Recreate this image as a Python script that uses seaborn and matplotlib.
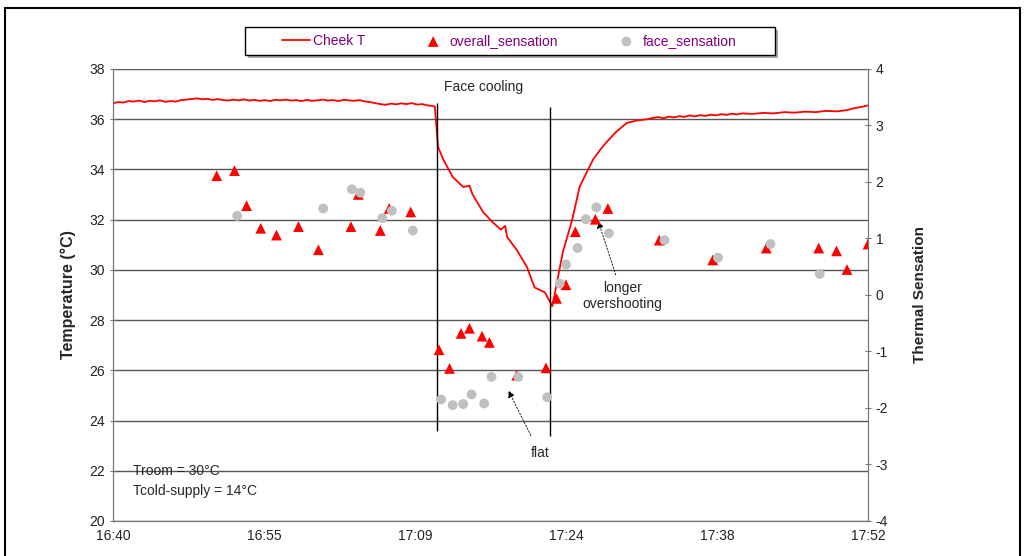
import matplotlib
matplotlib.use("Agg")
import matplotlib.pyplot as plt
import seaborn as sns
import pandas as pd
from matplotlib.patches import Rectangle

# minutes after 16:40
cheek_min = [0, 0.5, 1, 1.5, 2, 2.5, 3, 3.5, 4, 4.5, 5, 5.5, 6, 6.5, 7, 7.5, 8, 8.5, 9, 9.5,
             10, 10.5, 11, 11.5, 12, 12.5, 13, 13.5, 14, 14.5, 15, 15.5, 16, 16.5, 17, 17.5,
             18, 18.5, 19, 19.5, 20, 20.5, 21, 21.5, 22, 22.5, 23, 23.5, 24, 24.5, 25, 25.5,
             26, 26.5, 27, 27.5, 28, 28.5, 29, 29.5, 30, 30.5, 30.7,
             31.0, 31.5, 32.4, 33.4, 34.0, 34.3, 35.3, 36.2, 37.0, 37.4, 37.6, 38.5,
             39.5, 40.2, 40.7, 41.2, 41.9,
             42.3, 42.9, 43.8, 44.5, 45.2, 45.8, 46.5, 47.1, 48.0, 49.0, 50.0, 51.0,
             51.5, 52, 52.5, 53, 53.5, 54, 54.5, 55, 55.5, 56, 56.5, 57, 57.5, 58, 58.5,
             59, 59.5, 60, 61, 62, 63, 64, 65, 66, 67, 68, 69, 70, 70.5, 71, 71.5, 72]
cheek_T = [36.63, 36.68, 36.66, 36.72, 36.7, 36.74, 36.68, 36.73, 36.71, 36.75, 36.69, 36.72,
           36.7, 36.76, 36.78, 36.8, 36.83, 36.79, 36.81, 36.77, 36.8, 36.76, 36.74, 36.78,
           36.75, 36.79, 36.74, 36.77, 36.73, 36.76, 36.72, 36.77, 36.75, 36.78, 36.74, 36.76,
           36.72, 36.77, 36.73, 36.75, 36.78, 36.74, 36.76, 36.72, 36.77, 36.75, 36.73, 36.76,
           36.71, 36.68, 36.64, 36.6, 36.57, 36.62, 36.59, 36.63, 36.6, 36.64, 36.58, 36.6,
           36.55, 36.52, 36.5,
           34.9, 34.4, 33.7, 33.3, 33.35, 33.0, 32.3, 31.9, 31.6, 31.75, 31.3, 30.8,
           30.1, 29.3, 29.2, 29.1, 28.55,
           29.4, 30.7, 32.0, 33.3, 33.9, 34.4, 34.8, 35.1, 35.5, 35.85, 35.95, 36.0,
           36.05, 36.08, 36.04, 36.1, 36.07, 36.12, 36.09, 36.15, 36.11, 36.16, 36.13, 36.18,
           36.15, 36.2, 36.17, 36.22, 36.19, 36.23, 36.21, 36.25, 36.23, 36.28, 36.26, 36.3,
           36.28, 36.33, 36.31, 36.36, 36.42, 36.46, 36.5, 36.55]

overall_min = [9.9, 11.6, 12.75, 14.1, 15.6, 17.7, 19.6, 22.7, 23.4, 25.5, 26.35, 28.4,
               31.1, 32.1, 33.2, 34.0, 35.2, 35.9, 38.5, 41.3,
               42.3, 43.2, 44.1, 46.0, 47.2, 52.1, 57.2, 62.3, 67.3, 69.0, 70.0, 72.0]
overall_sens = [2.11, 2.2, 1.58, 1.18, 1.06, 1.21, 0.8, 1.21, 1.78, 1.14, 1.53, 1.47,
                -0.97, -1.3, -0.68, -0.59, -0.73, -0.84, -1.42, -1.29,
                -0.06, 0.18, 1.12, 1.34, 1.53, 0.97, 0.62, 0.83, 0.83, 0.78, 0.45, 0.9]

face_min = [11.85, 20.06, 22.8, 23.6, 25.7, 26.6, 28.6,
            31.3, 32.4, 33.4, 34.2, 35.4, 36.1, 38.65, 41.4,
            42.6, 43.2, 44.3, 45.1, 46.1, 47.3, 52.6, 57.7, 62.7, 67.4]
face_sens = [1.4, 1.53, 1.87, 1.81, 1.36, 1.49, 1.14,
             -1.85, -1.95, -1.93, -1.76, -1.92, -1.45, -1.45, -1.81,
             0.2, 0.54, 0.83, 1.34, 1.55, 1.09, 0.97, 0.66, 0.9, 0.37]

x_ticks = [0, 14.4, 28.8, 43.2, 57.6, 72]
x_labels = ["16:40", "16:55", "17:09", "17:24", "17:38", "17:52"]

df_T = pd.DataFrame({"t": cheek_min, "T": cheek_T})
df_o = pd.DataFrame({"t": overall_min, "s": overall_sens})
df_f = pd.DataFrame({"t": face_min, "s": face_sens})

sns.set_style("white")
plt.rcParams["font.family"] = ["Liberation Sans", "DejaVu Sans"]
plt.rcParams["axes.unicode_minus"] = False

fig = plt.figure(figsize=(10.26, 5.56), dpi=100)
ax = fig.add_axes([0.110, 0.063, 0.736, 0.813])
ax2 = ax.twinx()

sns.lineplot(data=df_T, x="t", y="T", ax=ax, color="red", lw=1.3, label="Cheek T", legend=False)
sns.scatterplot(data=df_o, x="t", y="s", ax=ax2, marker="^", color="red", s=60,
                edgecolor="none", label="overall_sensation", legend=False, zorder=3)
sns.scatterplot(data=df_f, x="t", y="s", ax=ax2, marker="o", color="#c0c0c0", s=50,
                edgecolor="none", label="face_sensation", legend=False, zorder=4)

ax.set_xlim(0, 72)
ax.set_ylim(20, 38)
ax2.set_ylim(-4, 4)
ax.set_yticks(range(20, 39, 2))
ax2.set_yticks(range(-4, 5))
ax.set_xticks(x_ticks)
ax.set_xticklabels(x_labels)
ax.grid(axis="y", color="#555555", lw=1)
ax.set_axisbelow(True)

for a in (ax, ax2):
    for sp in a.spines.values():
        sp.set_color("#777777")
    a.spines["top"].set_visible(False)
ax.tick_params(axis="both", direction="inout", length=5, color="#777777", labelsize=10, pad=3,
               labelcolor="#222222")
ax2.tick_params(axis="y", direction="inout", length=5, color="#777777", labelsize=10, pad=3,
                labelcolor="#222222")

ax.set_xlabel("")
ax.set_ylabel("Temperature (°C)", fontsize=11.5, fontweight="bold", labelpad=10)
ax2.set_ylabel("Thermal Sensation", fontsize=11, fontweight="bold", labelpad=18)

# face cooling period
ax.vlines(30.9, 23.6, 36.65, color="black", lw=1)
ax.vlines(41.7, 23.4, 36.5, color="black", lw=1)
ax.text(35.3, 37.3, "Face cooling", ha="center", va="center", fontsize=10)

ax.annotate("longer\novershooting", xy=(46.2, 1.35), xycoords=ax2.transData,
            xytext=(48.6, 0.25), textcoords=ax2.transData, ha="center", va="top", fontsize=10,
            arrowprops=dict(arrowstyle="-|>", color="black", lw=0.6, ls=(0, (2, 2))))
ax.annotate("flat", xy=(37.6, -1.65), xycoords=ax2.transData,
            xytext=(40.7, -2.8), textcoords=ax2.transData, ha="center", va="center", fontsize=10,
            arrowprops=dict(arrowstyle="-|>", color="black", lw=0.6, ls=(0, (2, 2)),
                            shrinkA=6))

ax.text(1.9, 21.6, "Troom = 30°C\nTcold-supply = 14°C", ha="left", va="center",
        fontsize=10, linespacing=1.5)

# legend box with shadow drawn by hand, legend itself frameless
fig.patches.append(Rectangle((0.2388 + 0.003, 0.9011 - 0.0054), 0.5166, 0.0504,
                             transform=fig.transFigure, facecolor="#a8a8a8", edgecolor="none"))
fig.patches.append(Rectangle((0.2388, 0.9011), 0.5166, 0.0504, transform=fig.transFigure,
                             facecolor="white", edgecolor="black", lw=1))

h1, l1 = ax.get_legend_handles_labels()
h2, l2 = ax2.get_legend_handles_labels()
leg = fig.legend(h1 + h2, l1 + l2, loc="center", bbox_to_anchor=(0.4966, 0.926), ncol=3,
                 fontsize=10, frameon=False, columnspacing=3.9, handlelength=2.0,
                 handletextpad=0.2, borderpad=0.45, borderaxespad=0)
for t in leg.get_texts():
    t.set_color("#800080")

fig.patches.append(Rectangle((0.005, -0.1), 0.989, 1.0856, transform=fig.transFigure,
                             fill=False, edgecolor="black", lw=1.5))

fig.savefig("out.png", dpi=100)
